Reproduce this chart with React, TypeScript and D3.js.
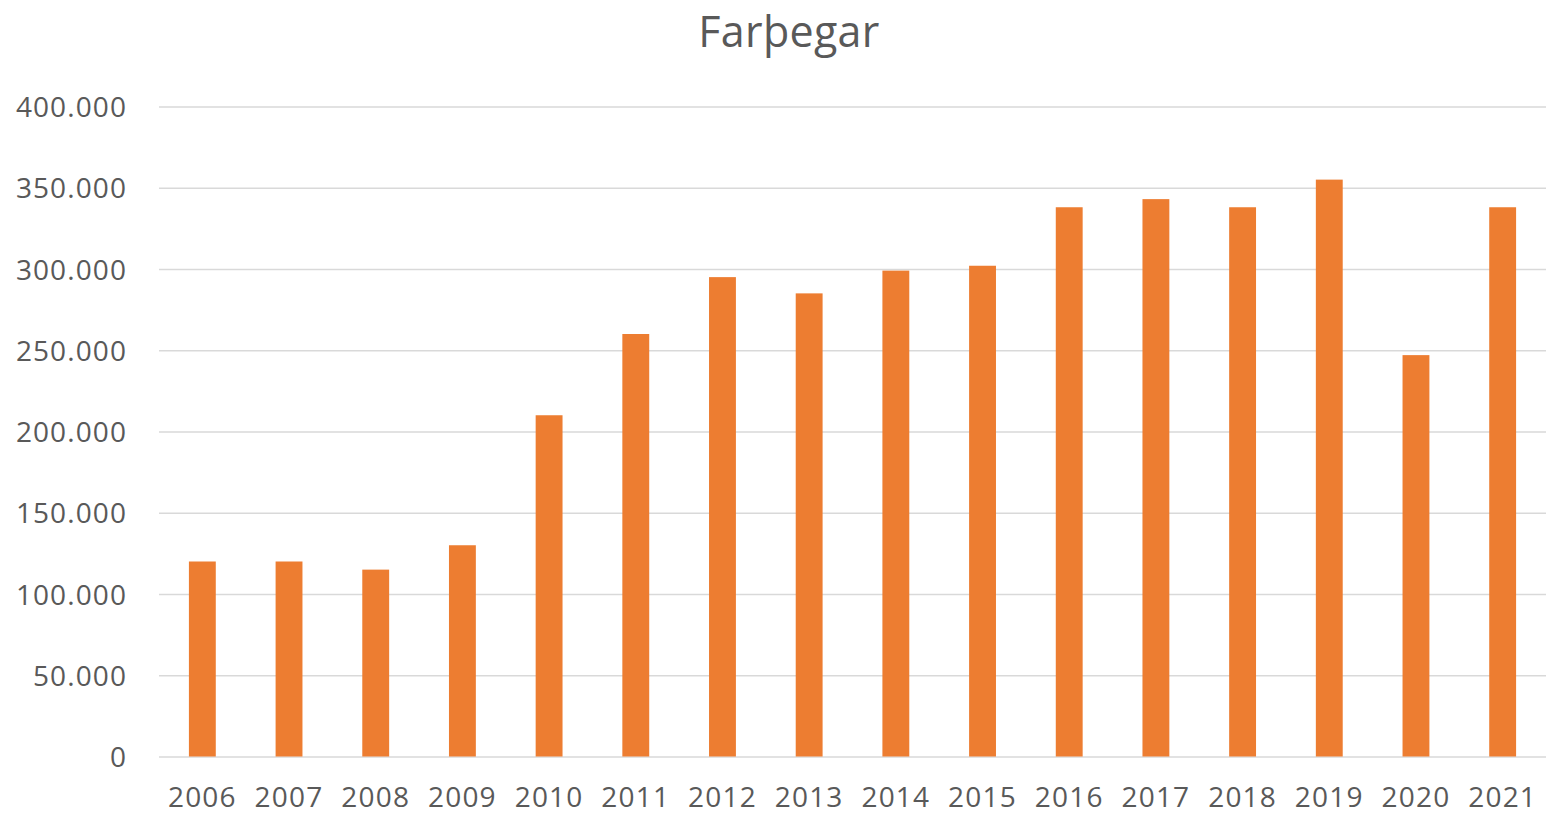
import * as d3 from 'd3';
import React, { useEffect, useRef } from 'react';

// Farþegar per year
const years = ['2006', '2007', '2008', '2009', '2010', '2011', '2012', '2013',
  '2014', '2015', '2016', '2017', '2018', '2019', '2020', '2021'];
const passengers = [120000, 120000, 115000, 130000, 210000, 260000, 295000, 285000,
  299000, 302000, 338000, 343000, 338000, 355000, 247000, 338000];
const yTicks = [0, 50000, 100000, 150000, 200000, 250000, 300000, 350000, 400000];

const width = 1549;
const height = 815;

const App: React.FC = () => {
  const svgRef = useRef<SVGSVGElement>(null);

  useEffect(() => {
    if (!svgRef.current) return;
    const svg = d3.select(svgRef.current);
    svg.selectAll('*').remove();

    const margin = { top: 106.5, right: 3, bottom: 58.5, left: 159 };
    const innerWidth = width - margin.left - margin.right;
    const innerHeight = height - margin.top - margin.bottom;
    const font = "'Open Sans', sans-serif";
    const textColor = '#595959';

    const x = d3.scaleBand<string>()
      .domain(years)
      .range([0, innerWidth])
      .paddingInner(0.69)
      .paddingOuter(0.345);

    const y = d3.scaleLinear()
      .domain([0, 400000])
      .range([innerHeight, 0]);

    const fmt = (v: number) => d3.format(',')(v).replace(/,/g, '.');

    const g = svg.append('g')
      .attr('transform', `translate(${margin.left}, ${margin.top})`);

    // gridlines + y labels
    const yAxis = g.append('g')
      .call(d3.axisLeft(y)
        .tickValues(yTicks)
        .tickSize(-innerWidth)
        .tickPadding(32)
        .tickFormat(d => fmt(d as number)));
    yAxis.select('.domain').remove();
    yAxis.selectAll('line')
      .attr('stroke', '#d9d9d9')
      .attr('stroke-width', 1.5);
    yAxis.selectAll('text')
      .attr('dy', '0.36em')
      .style('font-size', '28px')
      .style('font-family', font)
      .style('letter-spacing', '1.1px')
      .attr('fill', textColor);

    // bars
    g.selectAll('.bar')
      .data(passengers)
      .join('rect')
      .attr('class', 'bar')
      .attr('x', (_, i) => x(years[i]) ?? 0)
      .attr('y', d => y(d))
      .attr('width', x.bandwidth())
      .attr('height', d => innerHeight - y(d))
      .attr('fill', '#ed7d31');

    // x axis (kept just inside the bottom edge)
    const xAxis = g.append('g')
      .attr('transform', `translate(0, ${innerHeight})`)
      .call(d3.axisBottom(x).tickSize(0).tickPadding(36));
    xAxis.select('.domain').remove();
    xAxis.selectAll('text')
      .attr('dy', '0.5em')
      .style('font-size', '28px')
      .style('font-family', font)
      .style('letter-spacing', '1.2px')
      .attr('fill', textColor);

    // title
    svg.append('text')
      .attr('x', 789)
      .attr('y', 46.5)
      .attr('text-anchor', 'middle')
      .style('font-size', '43px')
      .style('font-family', font)
      .style('letter-spacing', '0.3px')
      .attr('fill', textColor)
      .text('Farþegar');
  }, []);

  return (
    <svg
      ref={svgRef}
      width={width}
      height={height}
      style={{ display: 'block', position: 'absolute', left: 0, top: 0, background: '#fff' }}
    />
  );
};

export default App;
